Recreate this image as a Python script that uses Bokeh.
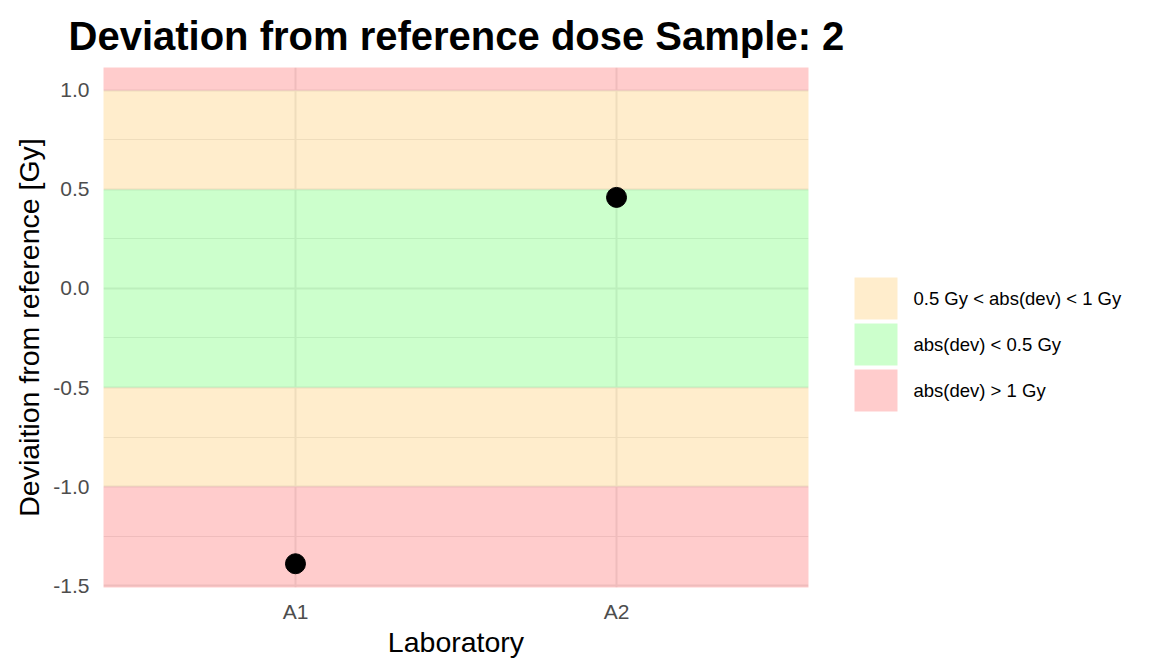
from bokeh.plotting import figure
from bokeh.layouts import row
from bokeh.models import FactorRange, Range1d, FixedTicker, ColumnDataSource
from bokeh.core.properties import value
from bokeh.embed import file_html
from bokeh.resources import INLINE

# ---- data ----
labs = ["A1", "A2"]
deviation = [-1.39, 0.46]

band_names = ["0.5 Gy < abs(dev) < 1 Gy", "abs(dev) < 0.5 Gy", "abs(dev) > 1 Gy"]
band_colors = ["#FFA500", "#00FF00", "#FF0000"]
band_bottoms = [[-1.0, 0.5], [-0.5], [-10.0, 1.0]]
band_tops = [[-0.5, 1.0], [0.5], [-1.0, 10.0]]

y_ticks = [-1.5, -1.0, -0.5, 0.0, 0.5, 1.0]
y_tick_labels = ["-1.5", "-1.0", "-0.5", "0.0", "0.5", "1.0"]
y_minor = [-1.25, -0.75, -0.25, 0.25, 0.75]

FONT = "Liberation Sans"
TOP, BOTTOM, H = 67, 85, 672

p = figure(width=848, height=H, output_backend="svg", toolbar_location=None,
           x_range=FactorRange(factors=labs, range_padding=0.098),
           y_range=Range1d(-1.51, 1.116),
           min_border_left=103, min_border_right=40, min_border_top=TOP, min_border_bottom=BOTTOM,
           title="Deviation from reference dose Sample: 2")
p.outline_line_color = None
p.background_fill_color = "white"
p.border_fill_color = "white"

p.title.text_font = FONT
p.title.text_font_size = "40px"
p.title.text_font_style = "bold"
p.title.text_color = "black"
p.title.offset = -35
p.title.standoff = 20

# grids
p.xgrid.grid_line_color = "#EBEBEB"
p.xgrid.grid_line_width = 2
p.ygrid.grid_line_color = "#EBEBEB"
p.ygrid.grid_line_width = 2
p.ygrid.minor_grid_line_color = "#EBEBEB"
p.ygrid.minor_grid_line_width = 1

# axes
p.yaxis.ticker = FixedTicker(ticks=y_ticks, minor_ticks=y_minor)
p.yaxis.major_label_overrides = {t: l for t, l in zip(y_ticks, y_tick_labels)}
for ax in (p.xaxis[0], p.yaxis[0]):
    ax.axis_line_color = None
    ax.major_tick_line_color = None
    ax.minor_tick_line_color = None
    ax.major_label_text_font = FONT
    ax.major_label_text_font_size = "21px"
    ax.major_label_text_color = "#4D4D4D"
    ax.axis_label_text_font = FONT
    ax.axis_label_text_font_size = "28.5px"
    ax.axis_label_text_font_style = "normal"
    ax.axis_label_text_color = "black"
p.xaxis.axis_label = "Laboratory"
p.yaxis.axis_label = "Deviaition from reference [Gy]"
p.xaxis.major_label_standoff = 6
p.xaxis.axis_label_standoff = 0
p.yaxis.major_label_standoff = 8

# bands
for name, col, bots, tops in zip(band_names, band_colors, band_bottoms, band_tops):
    src = ColumnDataSource(dict(left=[-1.0] * len(bots), right=[3.0] * len(bots), bottom=bots, top=tops))
    p.quad(left="left", right="right", bottom="bottom", top="top", source=src,
           fill_color=col, fill_alpha=0.2, line_color=None)

# points
p.scatter(x=labs, y=deviation, size=20, color="black")

# ---- legend panel (canvas-pixel coordinates, y downward) ----
leg = figure(width=304, height=H, output_backend="svg", toolbar_location=None,
             x_range=Range1d(0, 304), y_range=Range1d(H - BOTTOM, TOP),
             x_axis_type=None, y_axis_type=None,
             min_border_left=0, min_border_right=0, min_border_top=TOP, min_border_bottom=BOTTOM)
leg.outline_line_color = None
leg.xgrid.visible = False
leg.ygrid.visible = False
leg.background_fill_color = "white"
leg.border_fill_color = "white"

key_left, key_w, key_h, pitch, first_top, text_x = 6, 43, 42, 46, 277, 65
tops_px = [first_top + pitch * i for i in range(len(band_names))]
lsrc = ColumnDataSource(dict(
    left=[key_left] * len(band_names), right=[key_left + key_w] * len(band_names),
    top=tops_px, bottom=[t + key_h for t in tops_px],
    tx=[text_x] * len(band_names), ty=[t + key_h / 2 for t in tops_px],
    label=band_names, color=band_colors))
leg.quad(left="left", right="right", top="top", bottom="bottom", source=lsrc,
         fill_color="color", fill_alpha=0.2, line_color=None)
leg.text(x="tx", y="ty", text="label", source=lsrc, text_font=value(FONT),
         text_font_size="18.5px", text_baseline="middle", text_align="left", text_color="black")

layout = row(p, leg)
open("out.html", "w").write(file_html(layout, INLINE))
